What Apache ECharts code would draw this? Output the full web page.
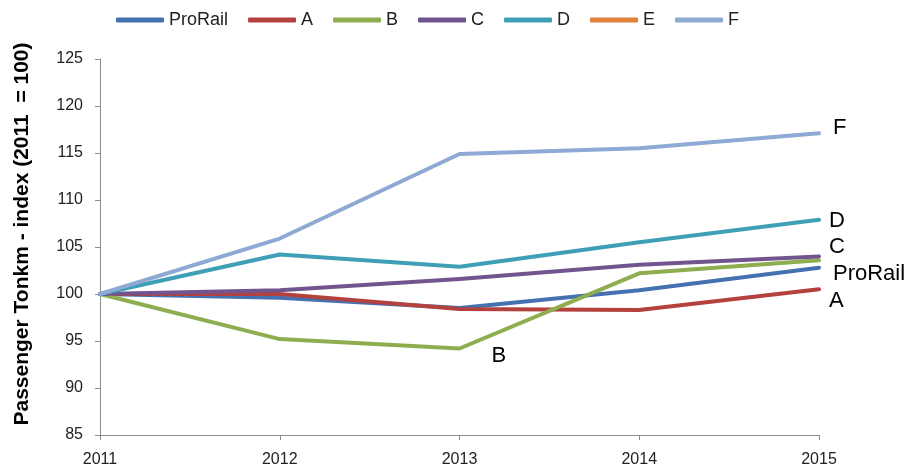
<!DOCTYPE html>
<html>
<head>
<meta charset="utf-8">
<script src="https://cdn.jsdelivr.net/npm/echarts@6/dist/echarts.min.js"></script>
<style>
  html, body { margin: 0; padding: 0; background: #fff; }
  #chart { width: 905px; height: 469px; }
</style>
</head>
<body>
<div id="chart"></div>
<script>
// Passenger tonne-km index per operator, 2011 = 100
const years = ['2011', '2012', '2013', '2014', '2015'];
const proRail = [100, 99.6, 98.5, 100.4, 102.8];
const seriesA = [100, 100.0, 98.4, 98.3, 100.5];
const seriesB = [100, 95.2, 94.2, 102.2, 103.6];
const seriesC = [100, 100.4, 101.6, 103.1, 104.0];
const seriesD = [100, 104.2, 102.9, 105.5, 107.9];
const seriesE = [null, null, null, null, null];
const seriesF = [100, 105.9, 114.9, 115.5, 117.1];
const yTicks = [85, 90, 95, 100, 105, 110, 115, 120, 125];

const labelFont = { fontFamily: '"Liberation Sans", Arial, sans-serif', fontSize: 22, color: '#000' };

// attach a text label to one point of a series
function withLabel(values, index, text, offset) {
  return values.map((v, i) => i === index
    ? { value: v, label: Object.assign({ show: true, position: 'right', distance: 0, formatter: text, offset: offset }, labelFont) }
    : v);
}

const chart = echarts.init(document.getElementById('chart'), null, { renderer: 'canvas' });

const last = years.length - 1;
const defs = [
  { name: 'ProRail', color: '#4472B0', data: withLabel(proRail, last, 'ProRail', [14, 6]) },
  { name: 'A', color: '#B3413E', data: withLabel(seriesA, last, 'A', [10, 12]) },
  { name: 'B', color: '#8DAD4F', data: withLabel(seriesB, 2, 'B', [32, 7]) },
  { name: 'C', color: '#72558F', data: withLabel(seriesC, last, 'C', [10, -9]) },
  { name: 'D', color: '#3E9FB6', data: withLabel(seriesD, last, 'D', [10, 1]) },
  { name: 'E', color: '#E0813A', data: seriesE },
  { name: 'F', color: '#8EA9D4', data: withLabel(seriesF, last, 'F', [14, -5]) }
];

chart.setOption({
  animation: false,
  backgroundColor: '#fff',
  color: defs.map(d => d.color),
  grid: { left: 100, right: 86, top: 59, bottom: 34 },
  legend: {
    top: 6,
    left: 111,
    icon: 'roundRect',
    itemWidth: 48,
    itemHeight: 5,
    itemGap: 20,
    textStyle: { fontFamily: '"Liberation Sans", Arial, sans-serif', fontSize: 18, color: '#222' },
    data: defs.map(d => d.name)
  },
  xAxis: {
    type: 'category',
    data: years,
    boundaryGap: false,
    axisLine: { lineStyle: { color: '#8C8C8C', width: 1 } },
    axisTick: { show: true, length: 5, lineStyle: { color: '#8C8C8C' } },
    axisLabel: { margin: 17, fontFamily: '"Liberation Sans", Arial, sans-serif', fontSize: 16, color: '#222' },
    splitLine: { show: false }
  },
  yAxis: {
    type: 'value',
    min: yTicks[0],
    max: yTicks[yTicks.length - 1],
    interval: 5,
    name: 'Passenger Tonkm - index (2011  = 100)',
    nameLocation: 'middle',
    nameGap: 67,
    nameTextStyle: { fontFamily: '"Liberation Sans", Arial, sans-serif', fontSize: 21, fontWeight: 'bold', color: '#000', padding: [0, 0, 0, 26] },
    axisLine: { show: true, lineStyle: { color: '#8C8C8C', width: 1 } },
    axisTick: { show: true, length: 5, lineStyle: { color: '#8C8C8C' } },
    axisLabel: { margin: 17, fontFamily: '"Liberation Sans", Arial, sans-serif', fontSize: 16, color: '#222' },
    splitLine: { show: false }
  },
  series: defs.map(d => ({
    name: d.name,
    type: 'line',
    data: d.data,
    showSymbol: true,
    symbol: 'circle',
    symbolSize: 0,
    lineStyle: { width: 4, color: d.color, cap: 'round', join: 'round' },
    itemStyle: { color: d.color },
    emphasis: { disabled: true }
  }))
});
</script>
</body>
</html>
